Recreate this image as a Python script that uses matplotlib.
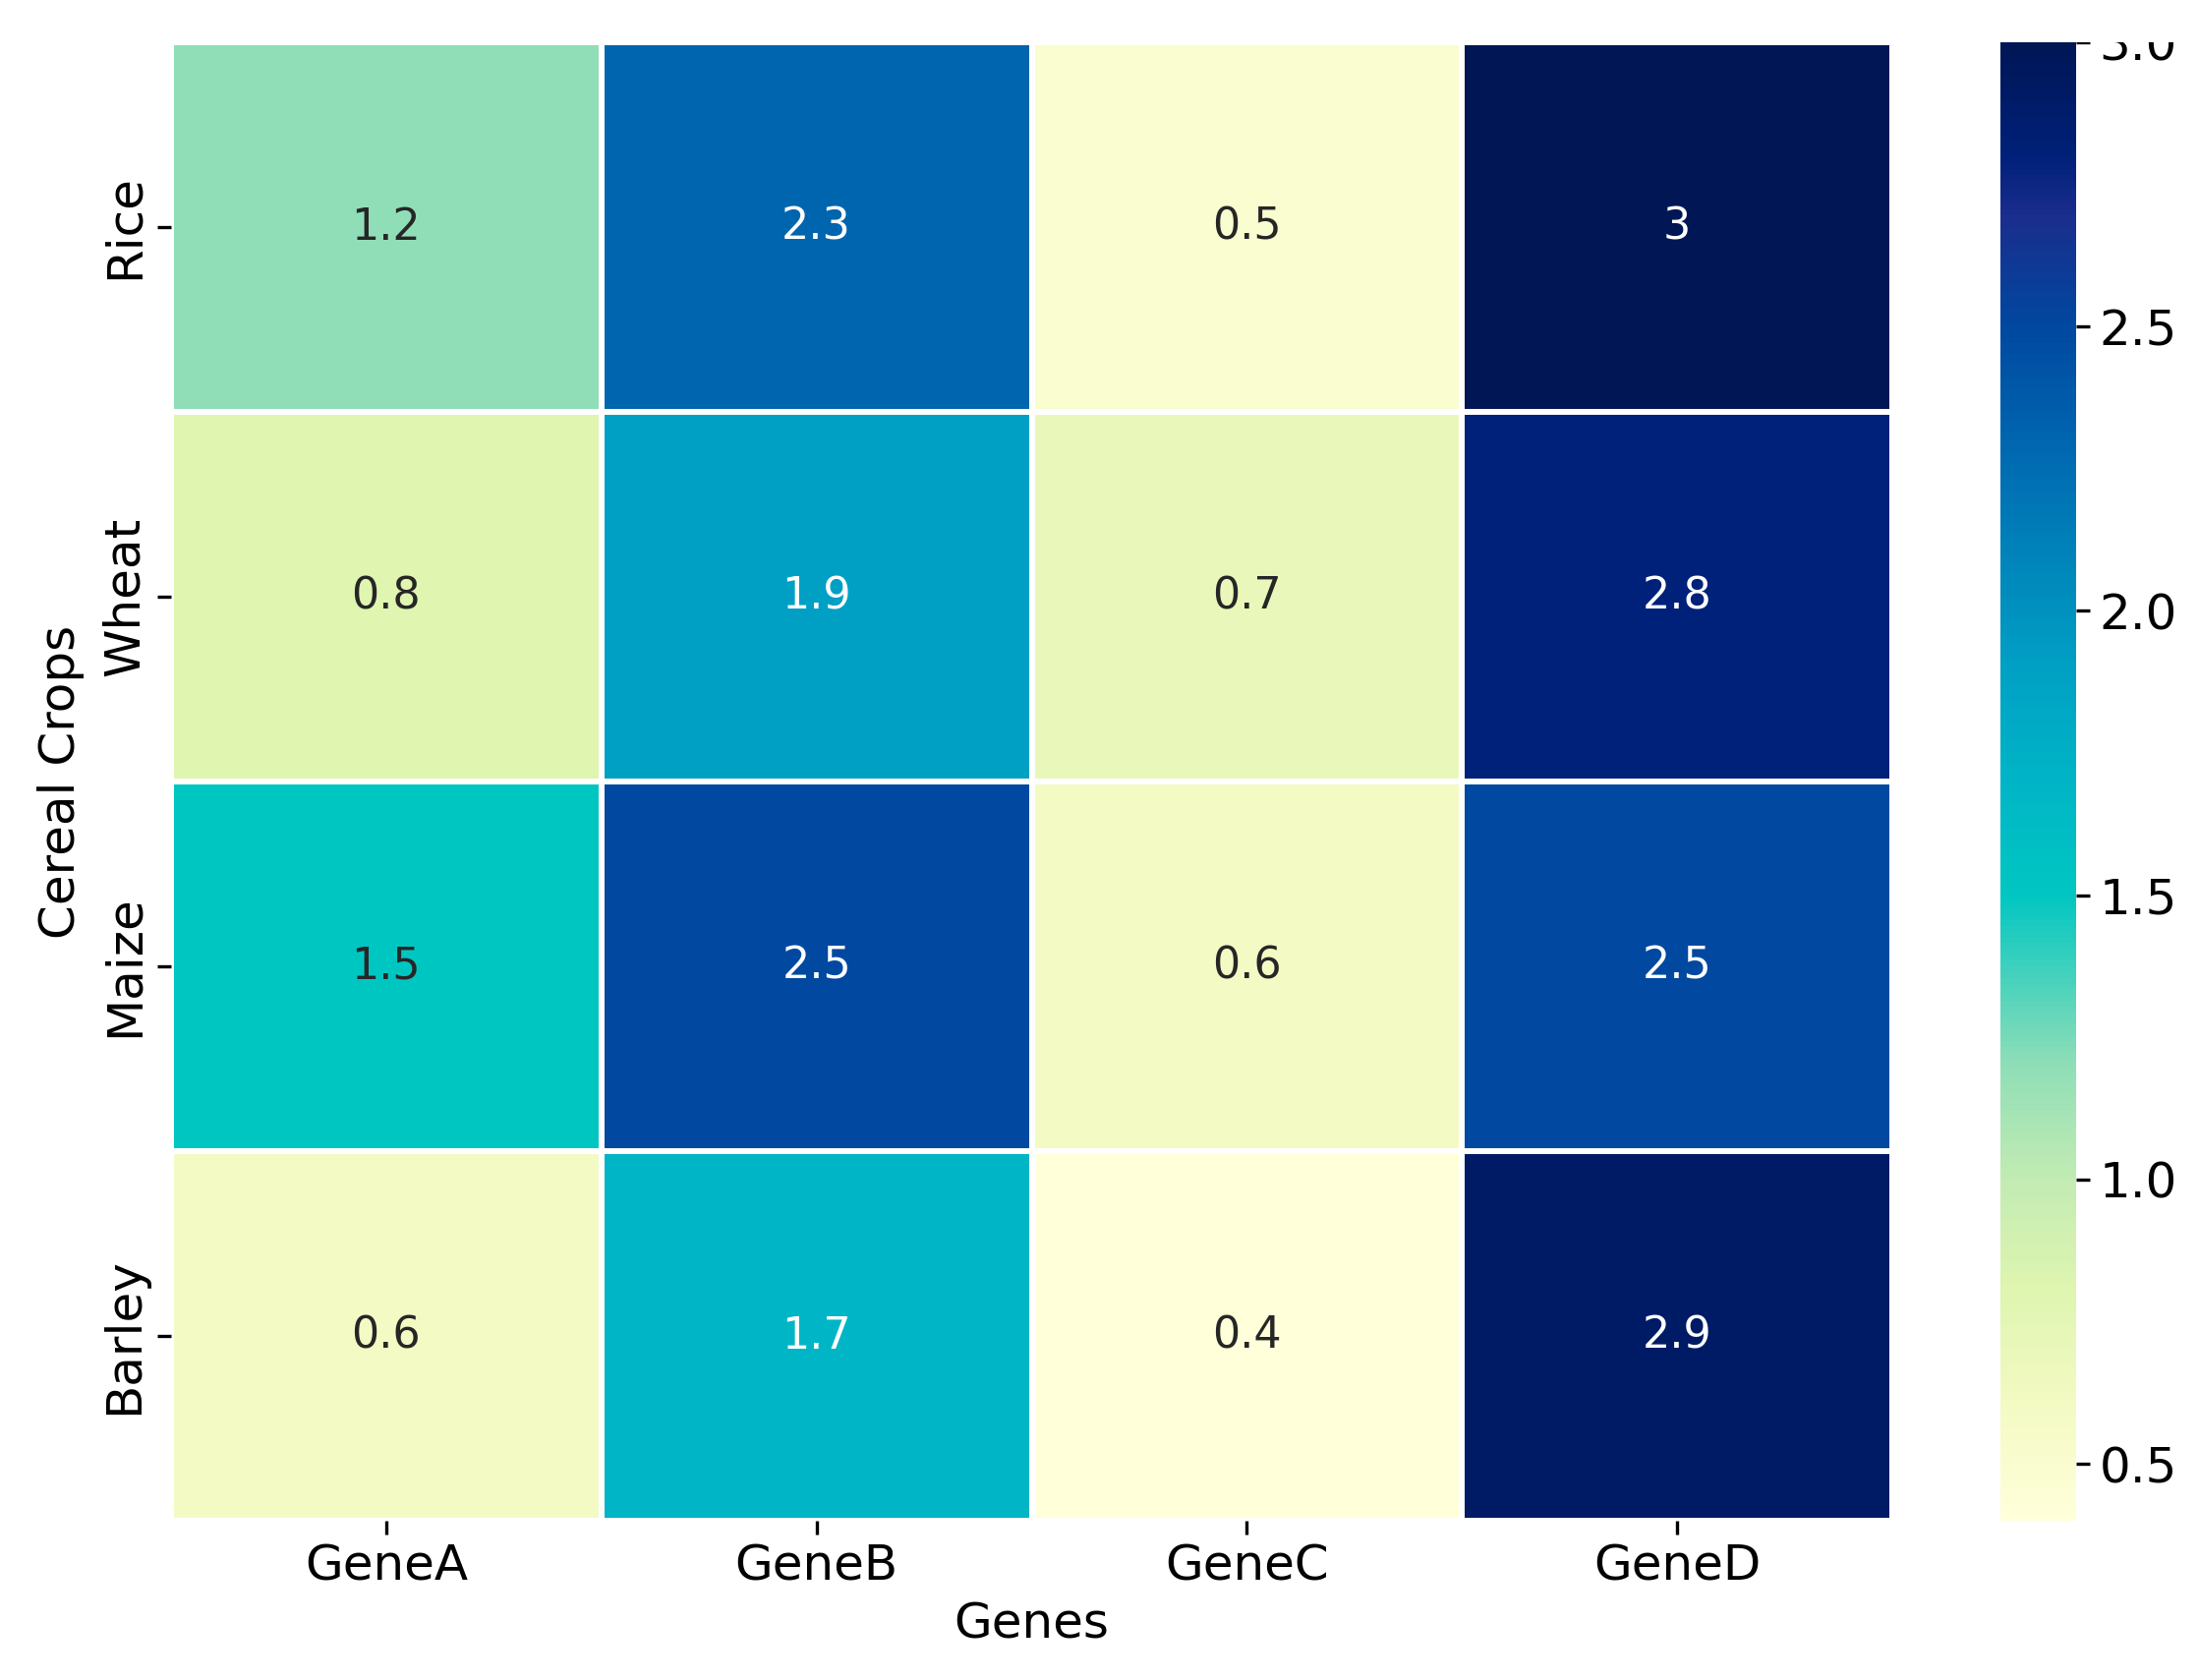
#Import the librarys needed
import numpy as np
import pandas as pd
import matplotlib
matplotlib.use("Agg")
import matplotlib.pyplot as plt
import seaborn as sns
from matplotlib.patches import Rectangle
from matplotlib.colors import LinearSegmentedColormap

#Data
crops = ["Rice", "Wheat", "Maize", "Barley"]
genes = ["GeneA", "GeneB", "GeneC", "GeneD"]
geneA = [1.2, 0.8, 1.5, 0.6]
geneB = [2.3, 1.9, 2.5, 1.7]
geneC = [0.5, 0.7, 0.6, 0.4]
geneD = [3.0, 2.8, 2.5, 2.9]

#Build the table for seaborn
table = pd.DataFrame({"GeneA": geneA, "GeneB": geneB, "GeneC": geneC, "GeneD": geneD}, index=crops)
table = table[genes]

#A more saturated YlGnBu, the reference picture has stronger colours
vmin, vmax = 0.4, 3.0
stops = [(0.4, "#ffffd9"), (0.6, "#f3fac3"), (0.8, "#dff5b0"), (1.0, "#c2ebb3"),
         (1.2, "#8fdeb7"), (1.5, "#00c6c2"), (1.7, "#00b5c6"), (1.9, "#00a0c4"),
         (2.3, "#0066b0"), (2.5, "#0048a0"), (2.7, "#1a2d8c"), (2.8, "#00217a"),
         (3.0, "#001655")]
cmap = LinearSegmentedColormap.from_list("ylgnbu_sat", [((v - vmin)/(vmax - vmin), c) for v, c in stops])

#Figure and axes placement
fig = plt.figure(figsize=(11.18, 8.545), dpi=200)
top = 1 - 43/1709
bottom = 1 - 1547/1709
ax = fig.add_axes([174/2236, bottom, (1925 - 174)/2236, top - bottom])
cax = fig.add_axes([2035/2236, bottom, 77/2236, top - bottom])

sns.heatmap(table, annot=True, fmt="g", cmap=cmap, vmin=vmin, vmax=vmax, linewidths=1.5,
            linecolor="white", ax=ax, cbar_ax=cax, annot_kws={"fontsize": 16})

#Labels/Formating
ax.set_xlabel("Genes", fontsize=18, labelpad=4)
ax.set_ylabel("Cereal Crops", fontsize=18, labelpad=6)
ax.tick_params(axis="both", labelsize=18, length=5, width=1.2)
ax.tick_params(axis="x", pad=3)
plt.setp(ax.get_yticklabels(), rotation=90, va="center")
plt.setp(ax.get_xticklabels(), rotation=0)

cax.set_yticks([0.5, 1.0, 1.5, 2.0, 2.5, 3.0])
cax.tick_params(labelsize=18, length=5, width=1.2)
for s in cax.spines.values():
    s.set_visible(False)

#The original picture is cut off at the top
fig.patches.append(Rectangle((0, top), 1, 1 - top, transform=fig.transFigure,
                             facecolor="white", edgecolor="none", zorder=10))

fig.savefig("out.png", dpi=200)
